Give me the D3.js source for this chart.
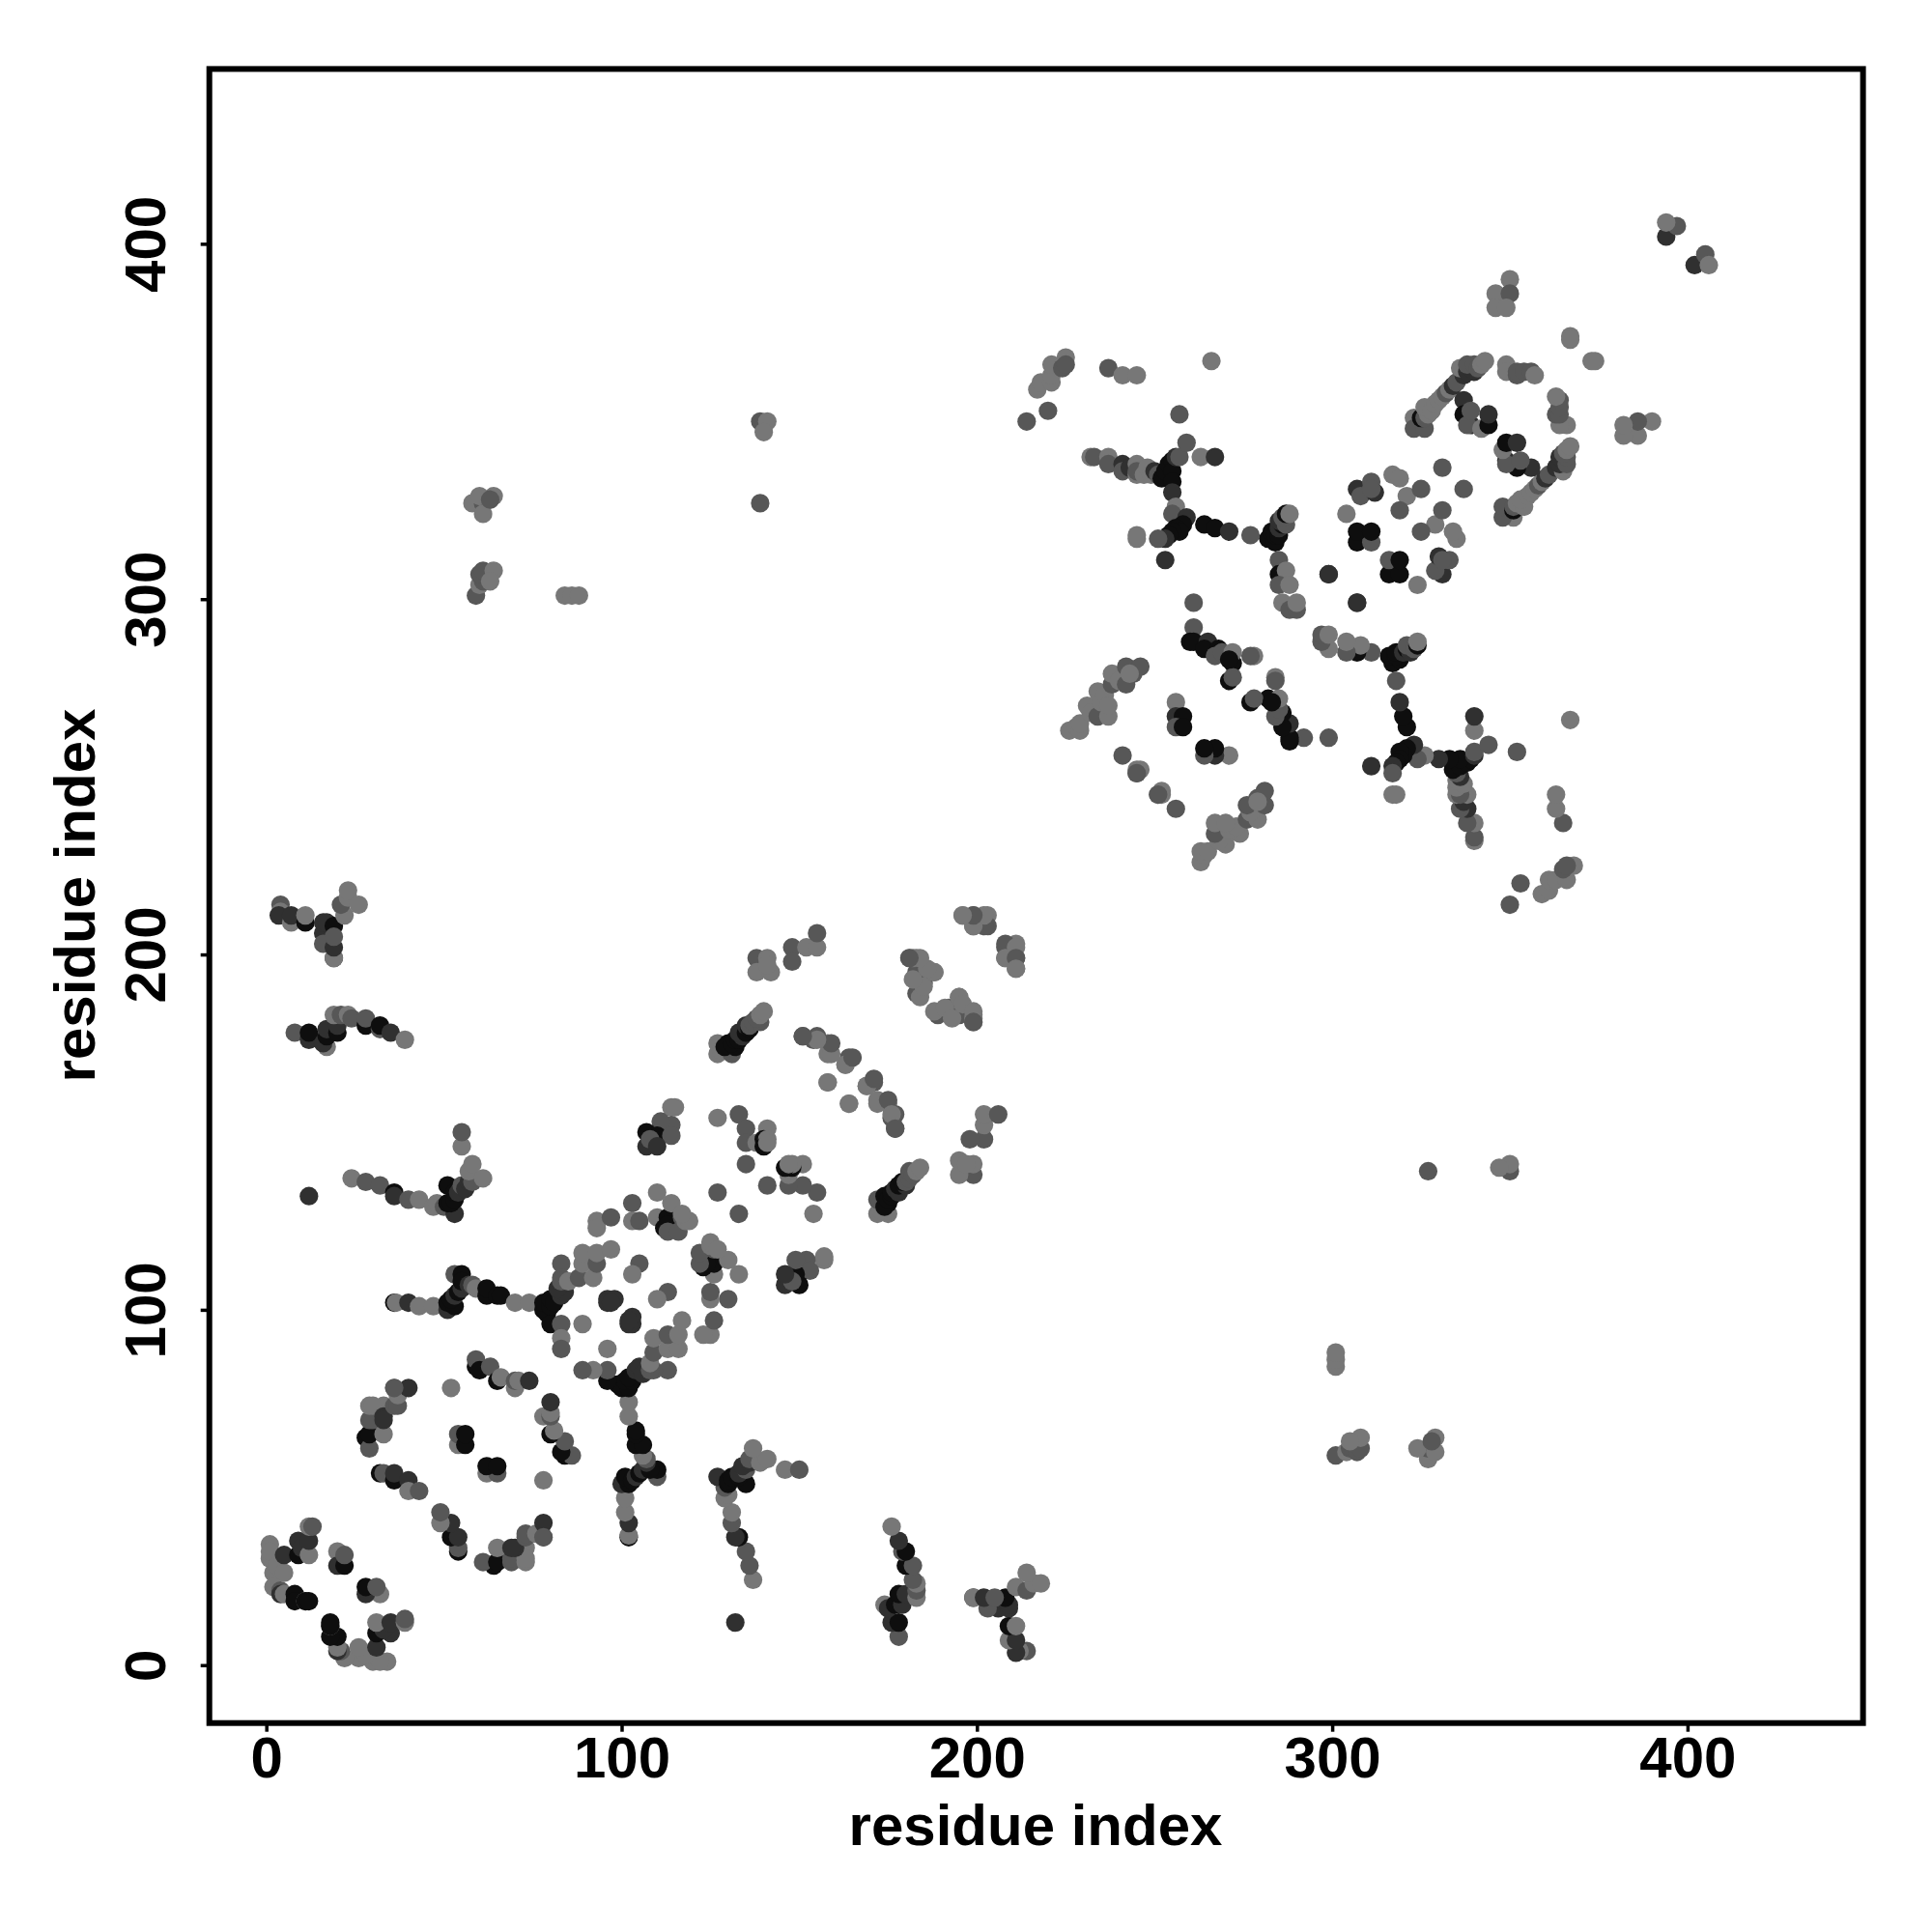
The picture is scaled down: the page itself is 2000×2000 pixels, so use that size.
<!DOCTYPE html>
<html><head><meta charset="utf-8">
<script src="https://cdn.jsdelivr.net/npm/d3@7"></script>
<style>html,body{margin:0;background:#fff}svg{display:block}</style></head>
<body><svg id="c" width="2000" height="2000"></svg>
<script>
// Contacts are [residue i, residue j, shade index]; the map is symmetric, each is drawn at (i,j) and (j,i).
const shadeGrays = ["#777777", "#575757", "#303030", "#0e0e0e"];
const xTicks = [0,100,200,300,400];
const yTicks = [0,100,200,300,400];
const axisTitle = "residue index";

const ringA = [[1,34,0],[1,30,0],[1,32,0],[2,26,0],[3,28,0],[5,26,0],[2,22,0],[4,21,1],[4,20,2],[5,20,0],[8,20,3],[8,18,3],[11,18,0],[11,18,3],[12,18,3],[5,31,2],[9,35,2],[9,31,3],[10,33,2],[12,31,0],[12,35,2],[12,39,0],[13,39,1],[20,32,0],[20,28,2],[22,28,3],[22,31,1]];
const ringBLeft = [[28,64,3],[29,61,1],[29,65,3],[29,69,1],[30,69,1],[33,65,0],[29,73,0],[33,73,0],[30,73,0],[33,70,2],[33,69,2],[36,73,1],[37,73,1],[36,78,0],[37,76,0],[40,78,2],[36,78,1]];
const ringBDiag = [[32,54,3],[33,54,1],[36,52,3],[36,54,2],[40,52,2],[40,49,0],[43,49,1]];
const ringBInner = [[52,78,0],[54,62,0],[54,65,1],[56,62,3],[56,65,3]];
const ringBUpper = [[59,84,3],[59,86,1],[60,83,3],[63,84,1],[65,80,3],[66,81,0],[70,78,0],[70,80,1],[71,80,0],[74,80,2]];
const spine100 = [[36,102,3],[36.5,102,0],[40,102,2],[43,101,0],[47,101,0],[51,100,2],[51,102,3],[53,101,3],[52,103,3],[53,104,2],[54,105,3],[53,110,1],[55,110,3],[55,106,2],[55,108,3],[57,107,2],[58,107,1],[59,106,0],[62,104,3],[62,106,3],[65,104,3],[66,104,3],[70,102,0],[74,102,0],[79,99,3],[78,100,3],[78,102,3],[80,101,3],[80,103,3],[81,102,3],[83,104,2],[84,105,2],[82,106,2],[80,96,3],[83,96,1],[83,92,0],[83,89,1]];
const ringD = [[83,113,1],[83,109,1],[83,108,1],[85,108,0],[88,109,1],[92,109,0],[89,113,0],[89,116,0],[93,113,1],[93,116,0],[97,117,0],[93,125,0],[93,123,0],[97,126,1],[103,130,1],[103,125,0],[105,125,1],[110,133,0],[110,126,0],[113,126,3],[112,123,3],[113,124,3],[113,122,1],[116,122,1],[114,130,0],[117,126,1],[118,125,0],[119,125,0],[117,127,0],[105,113,1],[103,110,0],[96,103,2],[98,103,2],[102,96,2],[102,97,2],[89,96,0]];
const crossBand = [[127,154,0],[133,155,1],[135,151,1],[135,147,1],[138,147,0],[141,151,0],[140,148,3],[141,148,0],[135,141,1],[127,133,1],[140,146,3],[141,147,0]];
const spine130 = [[12,132,2],[24,137,0],[28,136,1],[32,135,1],[36,133,3],[36,132,2],[40,131,1],[43,131,0],[47,129,0],[48,130,0],[50,129,1],[53,127,2],[51,130,3],[52,130,3],[53,131,3],[51,135,3],[53,133,3],[54,133,2],[55,135,1],[56,134,2],[57,136,2],[58,136,1],[57,139,0],[58,141,0],[61,137,0],[55,146,0],[55,150,1]];
const cluster175 = [[8,178,1],[12,176,2],[12,178,3],[17,174,0],[16,175,2],[17,177,3],[17,179,2],[20,178,3],[20,180,2],[19,183,0],[21,183,1],[23,183,0],[24,182,1],[28,180,3],[28,182,1],[32,179,1],[32,180,3],[35,178,2],[39,176,0]];
const cluster210 = [[4,214,1],[4,212,0],[3.5,211,2],[7,209,0],[7,211,2],[11,209,3],[11,211,0],[16,206,2],[16,209,2],[16,203,1],[19,199,2],[19,199,0],[19,202,2],[17,209,2],[19,208,3],[19,205,1],[22,211,0],[21,214,1],[23,216,0],[23,218,0],[26,214,0]];
const cluster300 = [[58,327,0],[61,327,1],[60,329,0],[61,324,0],[64,329,0],[63,328,1],[59,301,1],[60,304,0],[61,305,1],[60,307,1],[61,308,1],[64,308,0],[63,305,0],[84,301,0],[86,301,0],[88,301,0],[139,350,1],[141,350,0],[140,347,0],[139,327,1]];
const cluster150 = [[114,157,0],[115,157,0],[114,152,1],[111,153,1],[107,150,3],[110,149,3],[114,149,1],[107,146,2],[108,148,1],[110,146,2]];
const helixPair = [[127,172,0],[127,175,0],[128,173,0],[131,172,1],[130,175,3],[129,174,3],[132,174,3],[131,175,3],[132,176,3],[133,176,3],[134,177,2],[133,178,2],[135,178,3],[135,180,2],[136,179,3],[136,180,1],[137,181,1],[139,181,1],[138,182,1],[139,183,0],[140,184,0]];
const cluster197 = [[138,199,1],[141,199,0],[138,195,0],[142,195,0],[141,197,0],[148,202,1],[148,198,1],[152,202,0],[155,202,0],[155,206,1]];
const arc165 = [[151,177,1],[154,176,1],[158,175,0],[158,172,0],[164,171,1],[163,169,0],[158,164,0],[164,158,0],[169,163,0],[171,165,1],[172,159,0],[175,159,1],[177,155,1],[176,155,0],[177,151,1]];
const cluster190 = [[181,199,0],[183,199,0],[183,195,1],[188,195,0],[185,192,1],[183,189,1],[188,184,0],[191,185,0],[193,182,0],[195,188,0],[196,186,0],[199,182,0],[199,184,0],[199,181,1]];
const cluster205 = [[196,211,0],[199,211,1],[203,211,0],[199,208,0],[203,208,1],[208,202,1],[211,202,0],[208,199,0],[211,199,1],[211,196,0]];
const arm214 = [[214,350,1],[220,353,1],[217,359,0],[218,361,0],[221,361,0],[221,363,0],[221,366,0],[225,368,0],[224,365,1],[225,366,1],[237,365,1],[241,363,0],[245,363,0],[266,367,0],[257,352,1]];
const spineU = [[232,340,0],[233,340,1],[237,340,0],[237,338,1],[241,338,2],[241,336,1],[243,337,2],[245,338,0],[245,335,0],[245,336,1],[247,335,0],[248,337,0],[249,335,0],[250,336,2],[251,335,1],[252,334,3],[253,336,3],[254,338,3],[255,339,3],[255,336,3],[255,333,3],[256,340,2],[257,340,1],[259,344,1],[263,340,0],[267,340,2],[255,330,2],[256,326,0],[255,324,1],[259,323,2],[258,321,3],[256,320,3],[257,319,3],[255,319,3],[254,318,3],[253,317,2],[251,317,1],[245,317,0],[245,318,0],[253,311,2],[264,321,3],[267,320,3],[271,319,2],[277,318,1]];
const spineV = [[282,317,3],[283,319,3],[284,316,3],[284,318,3],[285,318,3],[285,320,2],[286,321,3],[285,322,2],[287,321,1],[286,323,1],[287,324,3],[288,324,0],[285,311,1],[285,307,3],[287,308,0],[285,304,1],[288,304,0],[286,299,0],[288,297,1],[290,297,1],[290,299,0]];
const ringW = [[304,324,0],[307,331,2],[308,329,1],[311,333,1],[312,330,2],[311,331,1],[317,335,0],[319,334,0],[321,329,0],[325,331,1],[319,325,1],[331,337,1],[307,316,3],[311,316,1],[307,319,3],[311,319,3],[299,307,2],[299,307,2]];
const armX = [[226,263,0],[228,264,0],[229,263,0],[229,265,0],[231,270,0],[232,268,0],[234,267,1],[234,274,0],[235,271,0],[236,273,0],[237,267,0],[237,270,0],[238,276,1],[238,279,0],[240,277,0],[242,276,1],[242,281,1],[244,279,1],[246,281,1],[243,279,0],[241,256,1],[245,252,0],[245,251,1],[252,246,0],[251,245,1]];
const clusterY = [[261,292,1],[260,288,3],[261,288,3],[265,288,2],[264,286,3],[268,286,3],[267,284,1],[269,285,1],[272,282,3],[272,285,0],[278,284,0],[271,277,3],[272,278,1],[277,284,1],[271,283,3],[256,271,0],[256,267,2],[258,267,3],[256,264,1],[258,264,3],[261,299,1]];
const ringAAUpper = [[323,351,0],[323,348,1],[326,348,1],[325,351,3],[326,351,1],[327,352,0],[326,354,0],[328,353,0],[329,355,0],[330,356,0],[331,357,0],[332,358,1],[333,359,0],[334,360,2],[335,361,1],[337,363,2],[336,365,0],[338,364,2],[339,365,2],[340,364,2],[338,366,1],[340,366,1],[341,365,1],[342,366,0],[343,367,0]];
const ringAAInner = [[337,356,2],[337,352,3],[339,349,2],[338,349,1],[339,353,1],[342,348,0],[344,349,3],[344,352,2],[349,366,0],[349,364,0],[352,363,1],[352,364,1],[354,364,1],[356,364,1],[357,363,0],[367,374,0],[367,373,0]];
const endBits = [[350,390,0],[346,386,0],[350,386,1],[346,382,0],[349,382,0],[394,402,2],[397,405,1],[394,406,0]];

const contactGroups = [ringA,ringBLeft,ringBDiag,ringBInner,ringBUpper,spine100,ringD,crossBand,spine130,cluster175,cluster210,cluster300,cluster150,helixPair,cluster197,arc165,cluster190,cluster205,arm214,spineU,spineV,ringW,armX,clusterY,ringAAUpper,ringAAInner,endBits];

const svg = d3.select("#c");
const L=216.7,R=1928.6,T=71.4,B=1783.7;
const x = d3.scaleLinear().domain([-16.04,449.4]).range([L,R]);
const y = d3.scaleLinear().domain([-16.3,449.2]).range([B,T]);

const pts = contactGroups.flat().flatMap(([i,j,s]) => [[i,j,s],[j,i,s]]);
svg.append("g").selectAll("circle").data(pts).join("circle")
  .attr("cx",d=>x(d[0])).attr("cy",d=>y(d[1])).attr("r",9.6)
  .attr("fill",d=>shadeGrays[d[2]]);

const font = "'Liberation Sans',Arial,sans-serif";
const xAxis = svg.append("g").attr("transform",`translate(0,${B})`)
  .call(d3.axisBottom(x).tickValues(xTicks).tickSizeOuter(0).tickSize(9).tickPadding(0));
xAxis.select(".domain").remove();
xAxis.selectAll("line").attr("stroke","#000").attr("stroke-width",3.5);
xAxis.selectAll("text").attr("font-family",font).attr("font-weight","bold").attr("font-size",60)
  .attr("fill","#000").attr("dy",null).attr("y",56.5).attr("text-anchor","middle");

const yAxis = svg.append("g").attr("transform",`translate(${L},0)`)
  .call(d3.axisLeft(y).tickValues(yTicks).tickSizeOuter(0).tickSize(9).tickPadding(0));
yAxis.select(".domain").remove();
yAxis.selectAll("line").attr("stroke","#000").attr("stroke-width",3.5);
yAxis.selectAll("text").attr("font-family",font).attr("font-weight","bold").attr("font-size",60)
  .attr("fill","#000").attr("dy",null).attr("x",null).attr("y",null)
  .attr("text-anchor","middle").attr("transform",`translate(-45.5,0) rotate(-90)`);

svg.append("rect").attr("x",L).attr("y",T).attr("width",R-L).attr("height",B-T)
  .attr("fill","none").attr("stroke","#000").attr("stroke-width",6);

svg.append("text").attr("x",1072).attr("y",1910).attr("text-anchor","middle")
  .attr("font-family",font).attr("font-weight","bold").attr("font-size",60).text(axisTitle);
svg.append("text").attr("transform","translate(98,927) rotate(-90)").attr("text-anchor","middle")
  .attr("font-family",font).attr("font-weight","bold").attr("font-size",60).text(axisTitle);
</script></body></html>
